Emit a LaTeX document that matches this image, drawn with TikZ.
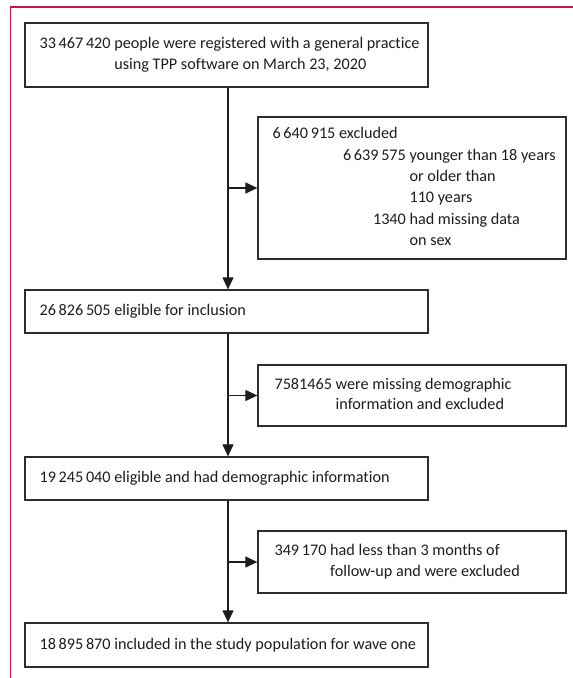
\documentclass[tikz,border=0pt]{standalone}
\usepackage{fontspec}
\setmainfont{Carlito}[Ligatures={NoCommon}]
\usetikzlibrary{arrows.meta,calc}
\definecolor{frame}{RGB}{200,20,72}
\definecolor{boxline}{RGB}{45,45,45}
\definecolor{ink}{RGB}{30,28,29}
\begin{document}
\begin{tikzpicture}[x=1pt,y=-1pt,
  box/.style={draw=boxline, line width=1.3pt, inner sep=0pt, minimum width=403pt},
  exbox/.style={draw=boxline, line width=1.3pt, inner sep=0pt, minimum width=308pt},
  txt/.style={inner sep=0pt, anchor=west, text=ink, align=left, font=\fontsize{16.2}{20.5}\selectfont},
  link/.style={draw=ink, line width=1.2pt},
  arr/.style={link, -{Triangle[length=12pt,width=11pt]}}]
\useasboundingbox (0,0) rectangle (573,678);
% red frame
\coordinate (fa) at (573,7);
\coordinate (fb) at (10.5,7);
\coordinate (fc) at (10.5,678);
\draw[frame, line width=1.2pt] (fa) -- (fb) -- (fc);
% boxes
\node[box, minimum height=64pt] (b1) at (226.5,55) {};
\node[exbox, minimum height=142pt] (e1) at (412,188) {};
\node[box, minimum height=43pt] (b2) at (226.5,311.5) {};
\node[exbox, minimum height=61pt] (e2) at (412,395.5) {};
\node[box, minimum height=43pt] (b3) at (226.5,478.5) {};
\node[exbox, minimum height=62pt] (e3) at (412,562) {};
\node[box, minimum height=44pt] (b4) at (226.5,645) {};
% texts
\node[txt] (t1) at ($(b1.west)+(15,0)$) {\begin{tabular}{@{}r@{\ }l@{}}33\,467\,420 & people were registered with a general practice\\ & using TPP software on March 23, 2020\end{tabular}};
\node[txt, font=\fontsize{16.2}{21.4}\selectfont] (te1) at ($(e1.west)+(15,0)$) {\begin{tabular}{@{}l@{}}6\,640\,915 excluded\\
\hspace*{137pt}\llap{6\,639\,575\ }younger than 18 years\\
\hspace*{137pt}or older than\\
\hspace*{137pt}110 years\\
\hspace*{137pt}\llap{1340\ }had missing data\\
\hspace*{137pt}on sex\end{tabular}};
\node[txt] (t2) at ($(b2.west)+(15,0)$) {26\,826\,505 eligible for inclusion};
\node[txt] (te2) at ($(e2.west)+(17,0)$) {\begin{tabular}{@{}r@{\ }l@{}}7581465 & were missing demographic\\ & information and excluded\end{tabular}};
\node[txt] (t3) at ($(b3.west)+(15,0)$) {19\,245\,040 eligible and had demographic information};
\node[txt, font=\fontsize{16.2}{21}\selectfont] (te3) at ($(e3.west)+(17,0)$) {\begin{tabular}{@{}r@{\ }l@{}}349\,170 & had less than 3 months of\\ & follow-up and were excluded\end{tabular}};
\node[txt] (t4) at ($(b4.west)+(15,0)$) {18\,895\,870 included in the study population for wave one};
% connectors
\coordinate (sx) at (228,0);
\draw[arr] (b1.south -| sx) -- (b2.north -| sx);
\draw[arr] (e1.west -| sx) -- (e1.west);
\draw[arr] (b2.south -| sx) -- (b3.north -| sx);
\draw[arr] (e2.west -| sx) -- (e2.west);
\draw[arr] (b3.south -| sx) -- (b4.north -| sx);
\draw[arr] (e3.west -| sx) -- (e3.west);
\end{tikzpicture}
\end{document}
